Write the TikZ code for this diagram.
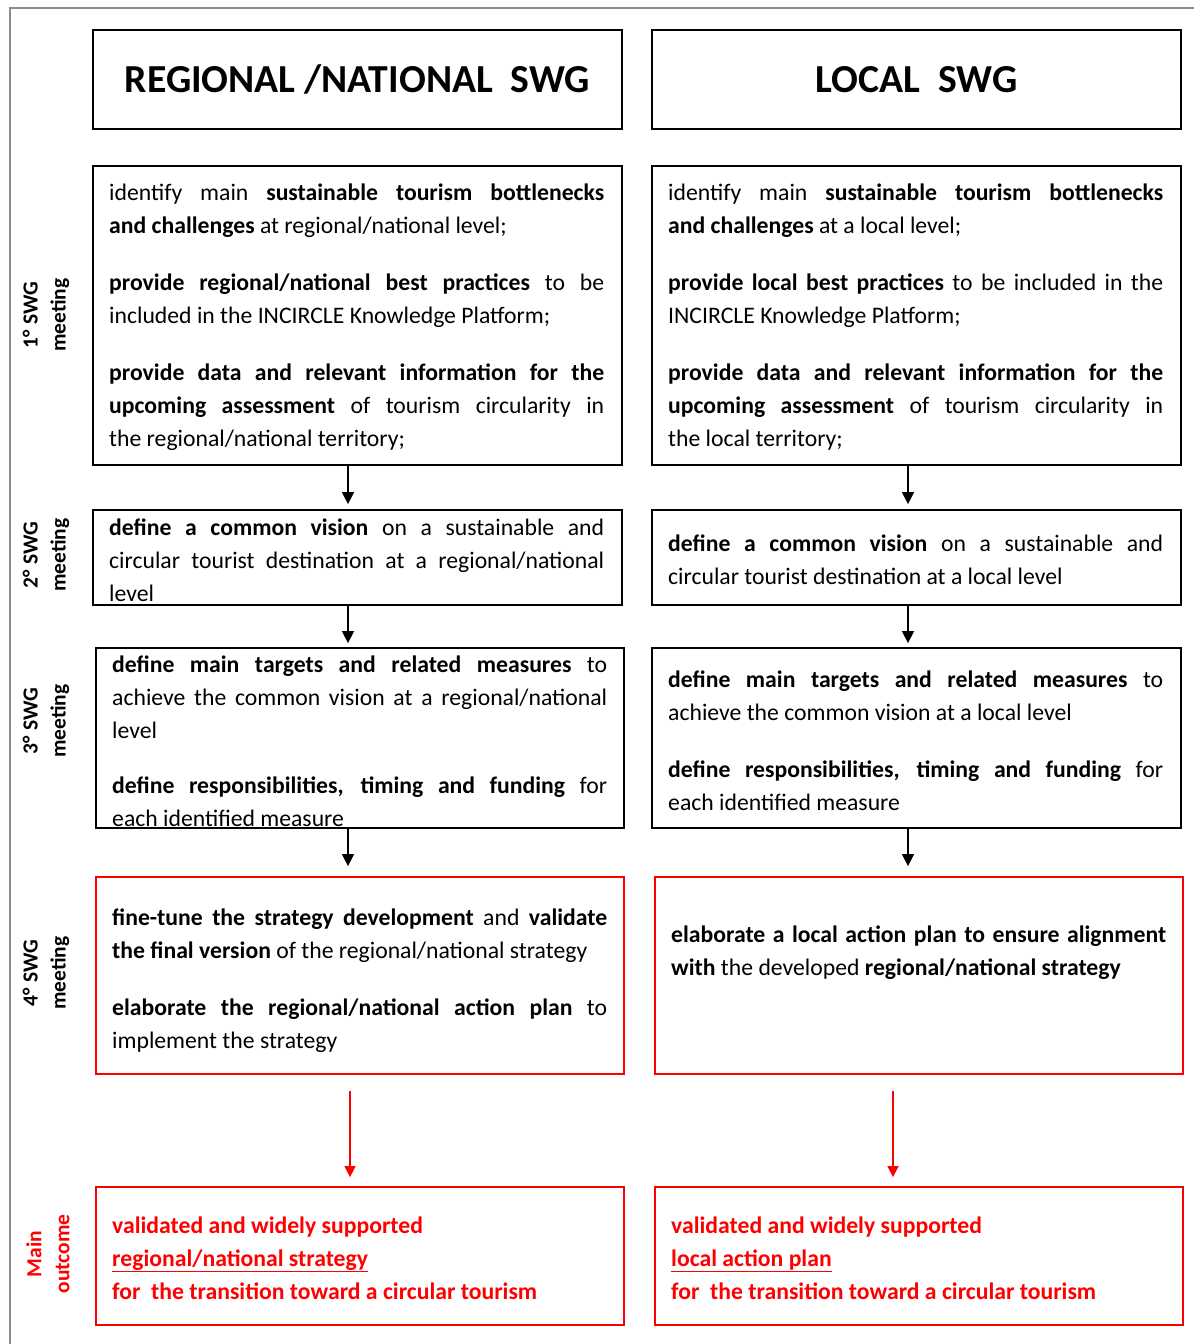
\documentclass[tikz,border=0pt]{standalone}
\usepackage{fontspec}
\setmainfont{Carlito}
\usetikzlibrary{arrows.meta}
\newcommand\J[1]{\hbox to\linewidth{#1}}
\newcommand\E[1]{\hbox{#1}}
\newcommand\PG[1][24pt]{\vskip #1}
\newcommand\bodyf{\fontsize{23.7}{33}\selectfont}
\tikzset{
  panel/.style={draw=black, line width=1.8pt, inner sep=0pt, minimum width=529pt},
  redpanel/.style={draw=red, line width=1.8pt, inner sep=0pt, minimum width=528pt},
  txt/.style={anchor=base west, inner sep=0pt},
  lab/.style={rotate=90, align=center, inner sep=0pt, font=\fontsize{21.5}{28}\selectfont\bfseries},
  arr/.style={draw=black, line width=1.5pt, -{Triangle[width=12pt,length=12pt]}},
  rarr/.style={draw=red, line width=1.5pt, -{Triangle[width=11pt,length=11pt]}},
  frame/.style={draw=black!45, line width=2pt},
  head/.style={font=\fontsize{39.7}{48}\selectfont\bfseries}
}
\begin{document}
\begin{tikzpicture}[x=1pt,y=-1pt]
\useasboundingbox (0,0) rectangle (1194,1344);
\draw[frame] (10,1344) -- (10,8) -- (1194,8);

% headers
\node[panel, head, minimum height=99pt] (HL) at (357.5,79.5) {REGIONAL /NATIONAL\ \ SWG};
\node[panel, head, minimum height=99pt] (HR) at (916.5,79.5) {LOCAL\ \ SWG};

% boxes
\node[panel, minimum height=299pt] (L1) at (357.5,315.5) {};
\node[panel, minimum height=299pt] (R1) at (916.5,315.5) {};
\node[panel, minimum height=95pt] (L2) at (357.5,557.5) {};
\node[panel, minimum height=95pt] (R2) at (916.5,557.5) {};
\node[panel, minimum width=528pt, minimum height=180pt] (L3) at (360,738) {};
\node[panel, minimum height=180pt] (R3) at (916.5,738) {};
\node[redpanel, minimum height=197pt] (L4) at (360,975.5) {};
\node[redpanel, minimum height=197pt] (R4) at (919,975.5) {};
\node[redpanel, minimum height=138pt] (L5) at (360,1256) {};
\node[redpanel, minimum height=138pt] (R5) at (919,1256) {};

% texts
\node[txt] (tL1) at (109,200) {\parbox[t]{495pt}{\bodyf
\J{identify main \textbf{sustainable tourism bottlenecks}}
\E{\textbf{and challenges} at regional/national level;}
\PG
\J{\textbf{provide regional/national best practices} to be}
\E{included in the INCIRCLE Knowledge Platform;}
\PG
\J{\textbf{provide data and relevant information for the}}
\J{\textbf{upcoming assessment} of tourism circularity in}
\E{the regional/national territory;}}};

\node[txt] (tR1) at (668,200) {\parbox[t]{495pt}{\bodyf
\J{identify main \textbf{sustainable tourism bottlenecks}}
\E{\textbf{and challenges} at a local level;}
\PG
\J{\textbf{provide local best practices} to be included in the}
\E{INCIRCLE Knowledge Platform;}
\PG
\J{\textbf{provide data and relevant information for the}}
\J{\textbf{upcoming assessment} of tourism circularity in}
\E{the local territory;}}};

\node[txt] (tL2) at (109,535) {\parbox[t]{495pt}{\bodyf
\J{\textbf{define a common vision} on a sustainable and}
\J{circular tourist destination at a regional/national}
\E{level}}};

\node[txt] (tR2) at (668,551) {\parbox[t]{495pt}{\bodyf
\J{\textbf{define a common vision} on a sustainable and}
\E{circular tourist destination at a local level}}};

\node[txt] (tL3) at (112,672) {\parbox[t]{495pt}{\bodyf
\J{\textbf{define main targets and related measures} to}
\J{achieve the common vision at a regional/national}
\E{level}
\PG[22pt]
\J{\textbf{define responsibilities, timing and funding} for}
\E{each identified measure}}};

\node[txt] (tR3) at (668,687) {\parbox[t]{495pt}{\bodyf
\J{\textbf{define main targets and related measures} to}
\E{achieve the common vision at a local level}
\PG
\J{\textbf{define responsibilities, timing and funding} for}
\E{each identified measure}}};

\node[txt] (tL4) at (112,925) {\parbox[t]{495pt}{\bodyf
\J{\textbf{fine-tune the strategy development} and \textbf{validate}}
\E{\textbf{the final version} of the regional/national strategy}
\PG
\J{\textbf{elaborate the regional/national action plan} to}
\E{implement the strategy}}};

\node[txt] (tR4) at (671,942) {\parbox[t]{495pt}{\bodyf
\J{\textbf{elaborate a local action plan to ensure alignment}}
\E{\textbf{with} the developed \textbf{regional/national strategy}}}};

\node[txt, text=red] (tL5) at (112,1233) {\parbox[t]{495pt}{\bodyf\bfseries
\E{validated and widely supported}
\E{\underline{regional/national strategy}}
\E{for\ \ the transition toward a circular tourism}}};

\node[txt, text=red] (tR5) at (671,1233) {\parbox[t]{495pt}{\bodyf\bfseries
\E{validated and widely supported}
\E{\underline{local action plan}}
\E{for\ \ the transition toward a circular tourism}}};

% side labels
\node[lab] (m1) at (46,315) {1° SWG\\meeting};
\node[lab] (m2) at (46,555) {2° SWG\\meeting};
\node[lab] (m3) at (46,721) {3° SWG\\meeting};
\node[lab] (m4) at (46,973) {4° SWG\\meeting};
\node[lab, text=red] (m5) at (48,1254) {Main\\outcome};

% arrows
\coordinate (xl) at (348,0);
\coordinate (xr) at (908,0);
\coordinate (xrl) at (350,0);
\coordinate (xrr) at (893,0);
\draw[arr, shorten >=5pt] (L1.south -| xl) -- (L2.north -| xl);
\draw[arr, shorten >=4pt] (L2.south -| xl) -- (L3.north -| xl);
\draw[arr, shorten >=10pt] (L3.south -| xl) -- (L4.north -| xl);
\draw[arr, shorten >=5pt] (R1.south -| xr) -- (R2.north -| xr);
\draw[arr, shorten >=4pt] (R2.south -| xr) -- (R3.north -| xr);
\draw[arr, shorten >=10pt] (R3.south -| xr) -- (R4.north -| xr);
\draw[rarr, shorten <=16pt, shorten >=9pt] (L4.south -| xrl) -- (L5.north -| xrl);
\draw[rarr, shorten <=16pt, shorten >=9pt] (R4.south -| xrr) -- (R5.north -| xrr);
\end{tikzpicture}
\end{document}
